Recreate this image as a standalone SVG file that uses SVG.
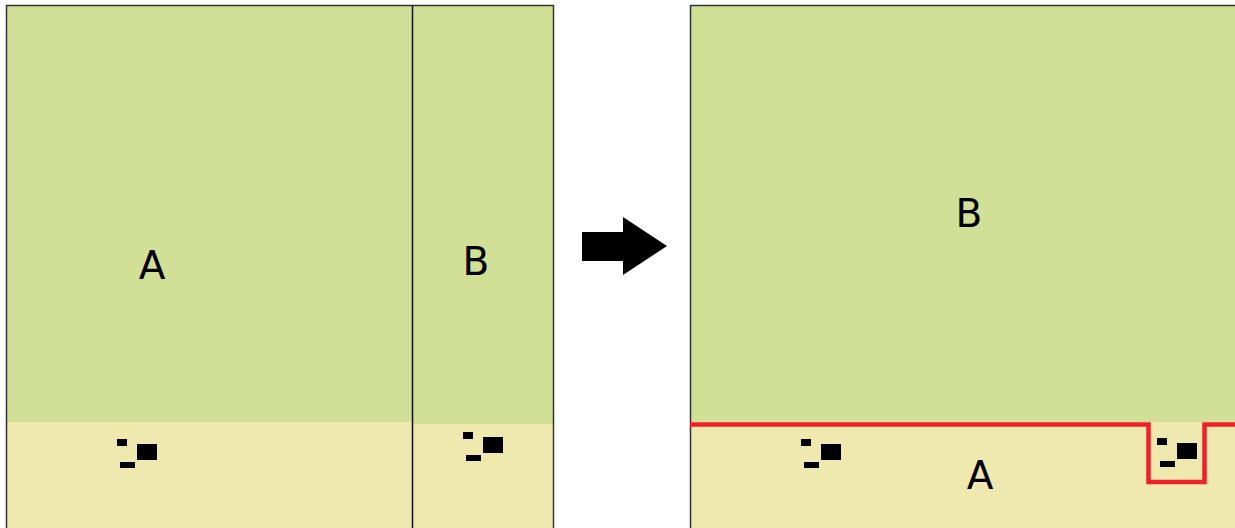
<svg xmlns="http://www.w3.org/2000/svg" width="1235" height="528" viewBox="0 0 1235 528">
  <style>
    .green { fill: #d2df97; }
    .sand { fill: #efe9b0; }
    .frame { fill: none; stroke: #333333; stroke-width: 1.5; }
    .divider { stroke: #111111; stroke-width: 1.5; }
    .chip { fill: #000000; }
    .label { font-family: "DejaVu Sans", "Liberation Sans", sans-serif; font-size: 39px; fill: #000000; text-anchor: middle; }
    .edge { fill: none; stroke: #ee2028; stroke-width: 4.5; stroke-linejoin: miter; }
  </style>
  <defs>
    <!-- small black marker made of three blocks -->
    <g id="chips">
      <rect class="chip" x="0" y="0" width="10" height="7"/>
      <rect class="chip" x="20" y="5" width="20" height="16"/>
      <rect class="chip" x="3" y="23" width="15" height="6"/>
    </g>
  </defs>
  <rect width="1235" height="528" fill="#ffffff"/>

  <!-- before: two side-by-side regions -->
  <g id="left-a">
    <rect class="green" x="7" y="6" width="405" height="416"/>
    <rect class="sand" x="7" y="422" width="405" height="110"/>
    <use href="#chips" x="117" y="439"/>
    <text class="label" x="152" y="279">A</text>
  </g>
  <g id="left-b">
    <rect class="green" x="412" y="6" width="141" height="418"/>
    <rect class="sand" x="412" y="424" width="141" height="108"/>
    <use href="#chips" x="463" y="432"/>
    <text class="label" x="476" y="275">B</text>
  </g>
  <rect class="frame" x="6.5" y="5.5" width="547" height="530"/>
  <line class="divider" x1="412.5" y1="5.5" x2="412.5" y2="530"/>

  <!-- transition arrow -->
  <g id="arrow">
    <polygon fill="#000000" points="582,232 623,232 623,217 667,246 623,275 623,261 582,261"/>
  </g>

  <!-- after: B over A -->
  <g id="right-b">
    <rect class="green" x="690" y="6" width="550" height="416"/>
    <text class="label" x="969" y="227">B</text>
  </g>
  <g id="right-a">
    <rect class="sand" x="690" y="422" width="550" height="110"/>
    <use href="#chips" x="801" y="439"/>
    <use href="#chips" x="1157" y="438"/>
    <text class="label" x="980" y="489">A</text>
  </g>
  <rect class="frame" x="690.5" y="5.5" width="600" height="530"/>
  <g id="connectors">
    <polyline class="edge" points="690,424.5 1148.5,424.5 1148.5,482 1204.5,482 1204.5,424.5 1240,424.5"/>
  </g>
</svg>
